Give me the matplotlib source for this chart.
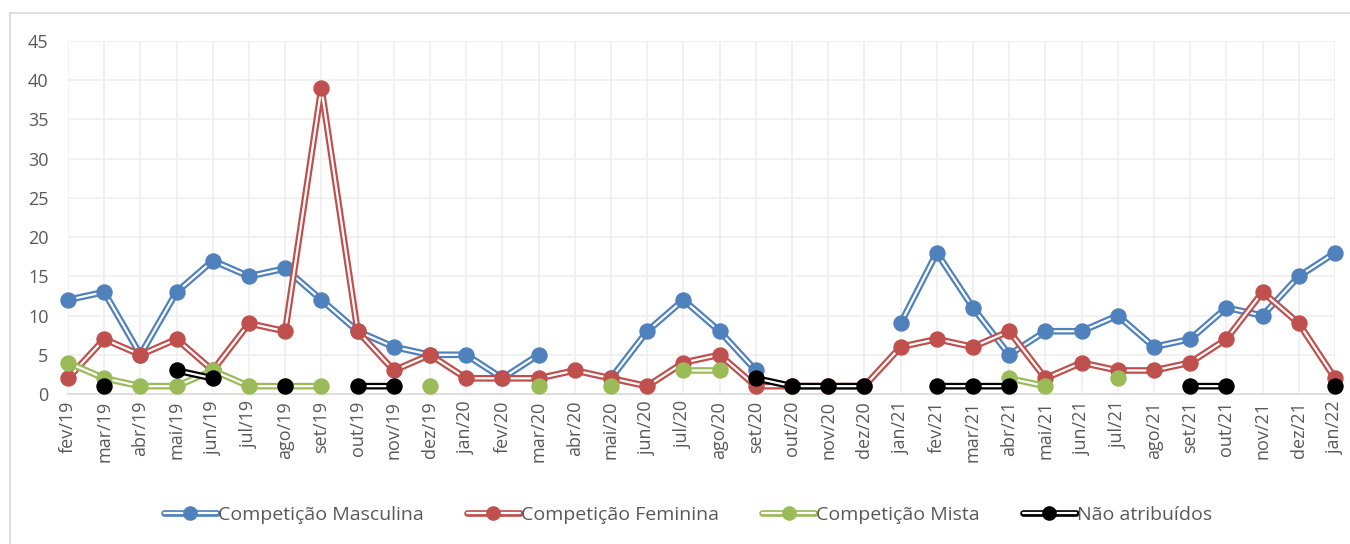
import numpy as np
import matplotlib
matplotlib.use("Agg")
import matplotlib.pyplot as plt
from matplotlib.lines import Line2D
from matplotlib.legend_handler import HandlerTuple

plt.rcParams['font.family'] = ['Open Sans', 'DejaVu Sans']

months = ["fev/19", "mar/19", "abr/19", "mai/19", "jun/19", "jul/19", "ago/19", "set/19",
          "out/19", "nov/19", "dez/19", "jan/20", "fev/20", "mar/20", "abr/20", "mai/20",
          "jun/20", "jul/20", "ago/20", "set/20", "out/20", "nov/20", "dez/20", "jan/21",
          "fev/21", "mar/21", "abr/21", "mai/21", "jun/21", "jul/21", "ago/21", "set/21",
          "out/21", "nov/21", "dez/21", "jan/22"]

N = None
masculina = [12, 13, 5, 13, 17, 15, 16, 12, 8, 6, 5, 5, 2, 5, N, 2, 8, 12, 8, 3,
             N, N, N, 9, 18, 11, 5, 8, 8, 10, 6, 7, 11, 10, 15, 18]
feminina = [2, 7, 5, 7, 3, 9, 8, 39, 8, 3, 5, 2, 2, 2, 3, 2, 1, 4, 5, 1,
            1, 1, 1, 6, 7, 6, 8, 2, 4, 3, 3, 4, 7, 13, 9, 2]
mista = [4, 2, 1, 1, 3, 1, 1, 1, N, N, 1, N, N, 1, N, 1, N, 3, 3, N,
         N, N, N, N, N, N, 2, 1, N, 2, N, N, N, N, N, N]
nao_atribuidos = [N, 1, N, 3, 2, N, 1, N, 1, 1, N, N, N, N, N, N, N, N, N, 2,
                  1, 1, 1, N, 1, 1, 1, N, N, N, N, 1, 1, N, N, 1]

series = [
    ("Competição Masculina", masculina, "#4f81bd"),
    ("Competição Feminina", feminina, "#c0504d"),
    ("Competição Mista", mista, "#9bbb59"),
    ("Não atribuídos", nao_atribuidos, "#000000"),
]

W, H = 1350, 544
fig = plt.figure(figsize=(W / 100, H / 100), dpi=100)
# chart frame: only top and left edges show in the crop
fig.add_artist(Line2D([9.5 / W, 9.5 / W], [0, 1 - 13 / H], transform=fig.transFigure,
                      color="#d9d9d9", lw=1.2))
fig.add_artist(Line2D([9.5 / W, 1], [1 - 13 / H, 1 - 13 / H], transform=fig.transFigure,
                      color="#d9d9d9", lw=1.2))

ax = fig.add_axes([68 / W, 150 / H, 1267 / W, 353 / H])
x = np.arange(len(months))

LW, WLW = 4.8, 1.6
handles = []
for name, vals, color in series:
    y = np.array([np.nan if v is None else v for v in vals], dtype=float)
    ax.plot(x, y, color=color, lw=LW, solid_capstyle="butt", zorder=3, clip_on=False)
    ax.plot(x, y, color="white", lw=WLW, solid_capstyle="butt", zorder=3, clip_on=False)
    ax.plot(x, y, ls="none", marker="o", ms=10.8, color=color, zorder=3, clip_on=False)
    h1 = Line2D([], [], color=color, lw=LW, solid_capstyle="round")
    h2 = Line2D([], [], color="white", lw=WLW, solid_capstyle="round")
    h3 = Line2D([], [], ls="none", marker="o", ms=9.5, color=color)
    handles.append((h1, h2, h3))

ax.set_xlim(0, len(months) - 1)
ax.set_ylim(0, 45)
ax.set_yticks(range(0, 46, 5))
ax.set_xticks(x)
ax.set_xticklabels(months, rotation=90, fontsize=13, color="#595959")
ax.tick_params(axis="y", labelsize=13, labelcolor="#595959", length=0, pad=14)
ax.tick_params(axis="x", length=0, pad=5)

ax.grid(True, color="#efefef", lw=1.2, zorder=0)
ax.set_axisbelow(True)
for side in ["top", "right", "left"]:
    ax.spines[side].set_visible(False)
ax.spines["bottom"].set_color("#d9d9d9")
ax.spines["bottom"].set_linewidth(1.2)

fig.legend(handles, [s[0] for s in series], handler_map={tuple: HandlerTuple(ndivide=1, pad=0)},
           loc="center", bbox_to_anchor=(688 / W, 1 - 515 / H), ncol=4, frameon=False,
           fontsize=14, labelcolor="#595959", handlelength=2.75, handletextpad=0.05,
           columnspacing=2.2)

fig.savefig("out.png", dpi=100)
